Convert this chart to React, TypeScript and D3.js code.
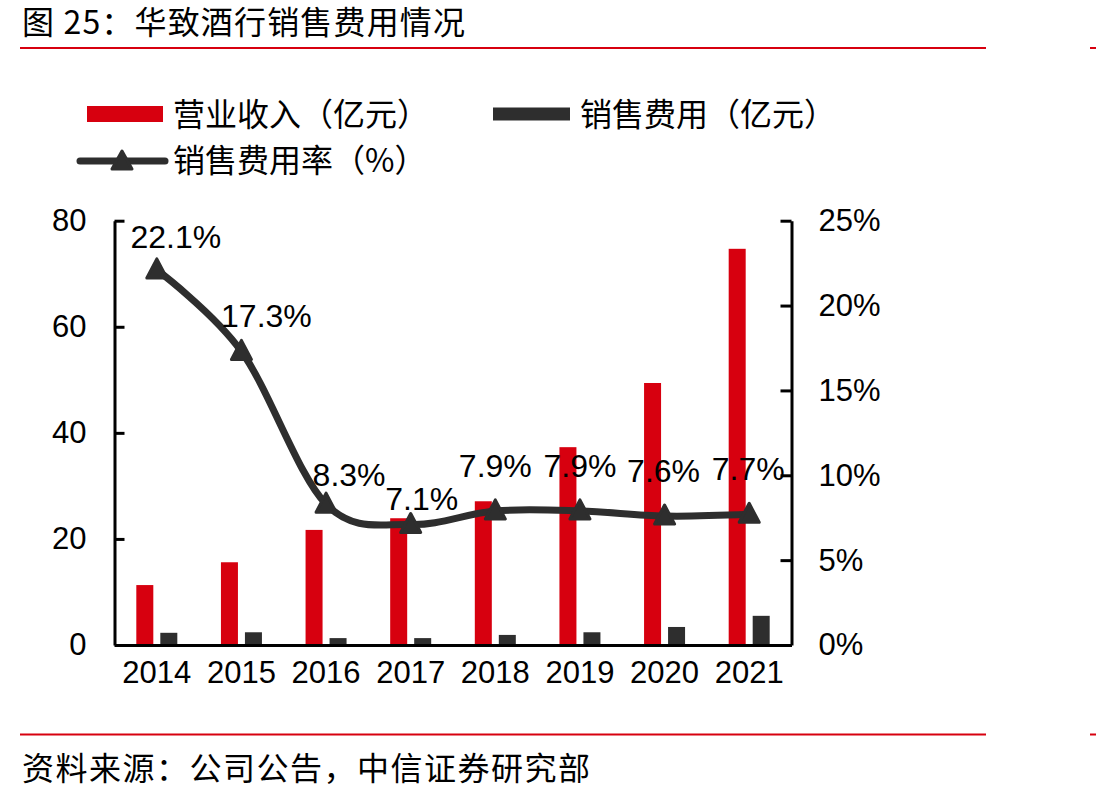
import React, { useEffect, useRef } from "react";
import * as d3 from "d3";

const years = ["2014", "2015", "2016", "2017", "2018", "2019", "2020", "2021"];
const revenue = [11.3, 15.6, 21.7, 23.9, 27.1, 37.3, 49.4, 74.7];
const salesExpense = [2.3, 2.4, 1.3, 1.3, 1.9, 2.4, 3.4, 5.5];
const expenseRatio = [22.1, 17.3, 8.3, 7.1, 7.9, 7.9, 7.6, 7.7];
const leftTicks = [0, 20, 40, 60, 80];
const rightTicks = [0, 5, 10, 15, 20, 25];

const RED = "#d7000f";
const DARK = "#2e2e2e";
const CJK = "'Noto Sans CJK SC', sans-serif";
const LATIN = "Arial, 'Liberation Sans', sans-serif";

const App = () => {
  const ref = useRef<SVGSVGElement>(null);

  useEffect(() => {
    const svg = d3.select(ref.current);
    svg.selectAll("*").remove();

    const left = 114.5;
    const right = 791.5;
    const top = 220.7;
    const bottom = 645;

    const x = d3.scaleBand().domain(years).range([left, right]);
    const cx = (d: string) => (x(d) as number) + x.bandwidth() / 2;
    const yL = d3.scaleLinear().domain([0, 80]).range([bottom, top]);
    const yR = d3.scaleLinear().domain([0, 25]).range([bottom, top]);

    // title + rules
    svg
      .append("text")
      .attr("x", 22)
      .attr("y", 34)
      .attr("font-family", CJK)
      .attr("font-size", 32)
      .attr("textLength", 443)
      .attr("lengthAdjust", "spacing")
      .text("图 25：华致酒行销售费用情况");

    [48, 734.5].forEach((yy) => {
      svg.append("line").attr("x1", 20).attr("x2", 986).attr("y1", yy).attr("y2", yy)
        .attr("stroke", RED).attr("stroke-width", 2);
      svg.append("line").attr("x1", 1090).attr("x2", 1096).attr("y1", yy).attr("y2", yy)
        .attr("stroke", RED).attr("stroke-width", 2);
    });

    svg
      .append("text")
      .attr("x", 22)
      .attr("y", 780)
      .attr("font-family", CJK)
      .attr("font-size", 32)
      .attr("textLength", 568)
      .attr("lengthAdjust", "spacing")
      .text("资料来源：公司公告，中信证券研究部");

    // legend
    const lg = svg.append("g").attr("font-family", CJK).attr("font-size", 32);
    lg.append("rect").attr("x", 87).attr("y", 106).attr("width", 76).attr("height", 16).attr("fill", RED);
    lg.append("text").attr("x", 173).attr("y", 126).text("营业收入（亿元）");
    lg.append("rect").attr("x", 493).attr("y", 107.5).attr("width", 77).attr("height", 13).attr("fill", DARK);
    lg.append("text").attr("x", 580).attr("y", 126).text("销售费用（亿元）");
    lg.append("line").attr("x1", 80).attr("x2", 165).attr("y1", 161).attr("y2", 161)
      .attr("stroke", DARK).attr("stroke-width", 7).attr("stroke-linecap", "round");
    lg.append("path").attr("d", "M0,-10L10,8L-10,8Z").attr("transform", "translate(122,161)")
      .attr("fill", DARK).attr("stroke", DARK).attr("stroke-width", 3).attr("stroke-linejoin", "round");
    lg.append("text").attr("x", 173).attr("y", 172).text("销售费用率（%）");

    // bars
    const barW = 17;
    svg.append("g").selectAll("rect").data(years).join("rect")
      .attr("x", (d) => cx(d) - 12 - barW / 2)
      .attr("width", barW)
      .attr("y", (d, i) => yL(revenue[i]))
      .attr("height", (d, i) => bottom - yL(revenue[i]))
      .attr("fill", RED);
    svg.append("g").selectAll("rect").data(years).join("rect")
      .attr("x", (d) => cx(d) + 12 - barW / 2)
      .attr("width", barW)
      .attr("y", (d, i) => yL(salesExpense[i]))
      .attr("height", (d, i) => bottom - yL(salesExpense[i]))
      .attr("fill", DARK);

    // axes
    const leftAxis = svg.append("g").attr("transform", `translate(${left},0)`)
      .call(d3.axisLeft(yL).tickValues(leftTicks).tickSize(-10).tickSizeOuter(0).tickPadding(28));
    const rightAxis = svg.append("g").attr("transform", `translate(${right},0)`)
      .call(d3.axisRight(yR).tickValues(rightTicks).tickSize(-11).tickSizeOuter(0).tickPadding(27)
        .tickFormat((d) => `${d}%`));
    const bottomAxis = svg.append("g").attr("transform", `translate(0,${bottom})`)
      .call(d3.axisBottom(x).tickSize(0).tickSizeOuter(0).tickPadding(16));
    [leftAxis, rightAxis, bottomAxis].forEach((a) => {
      a.selectAll("path,line").attr("stroke", "#000").attr("stroke-width", 3);
      a.selectAll("text").attr("font-family", LATIN).attr("font-size", 31).attr("fill", "#000");
    });

    // ratio line
    const pts: [number, number][] = years.map((d, i) => [cx(d), yR(expenseRatio[i])]);
    svg.append("path")
      .attr("d", d3.line().curve(d3.curveCatmullRom.alpha(0))(pts))
      .attr("fill", "none")
      .attr("stroke", DARK)
      .attr("stroke-width", 7)
      .attr("stroke-linecap", "round");
    svg.append("g").selectAll("path").data(pts).join("path")
      .attr("d", "M0,-11L10,8L-10,8Z")
      .attr("transform", (p) => `translate(${p[0]},${p[1]})`)
      .attr("fill", DARK)
      .attr("stroke", DARK)
      .attr("stroke-width", 3)
      .attr("stroke-linejoin", "round");

    // data labels (first few were nudged by hand in the original)
    const nudge = [[19, -22], [25, -24], [23, -18], [11, -14], [0, -34], [0, -34], [-1, -34], [-1, -34]];
    svg.append("g").selectAll("text").data(pts).join("text")
      .attr("x", (p, i) => p[0] + nudge[i][0])
      .attr("y", (p, i) => p[1] + nudge[i][1])
      .attr("text-anchor", "middle")
      .attr("font-family", LATIN)
      .attr("font-size", 32)
      .attr("fill", "#000")
      .text((p, i) => `${expenseRatio[i].toFixed(1)}%`);
  }, []);

  return (
    <svg
      ref={ref}
      width={1096}
      height={800}
      style={{ position: "absolute", left: 0, top: 0, background: "#fff" }}
    />
  );
};

export default App;
